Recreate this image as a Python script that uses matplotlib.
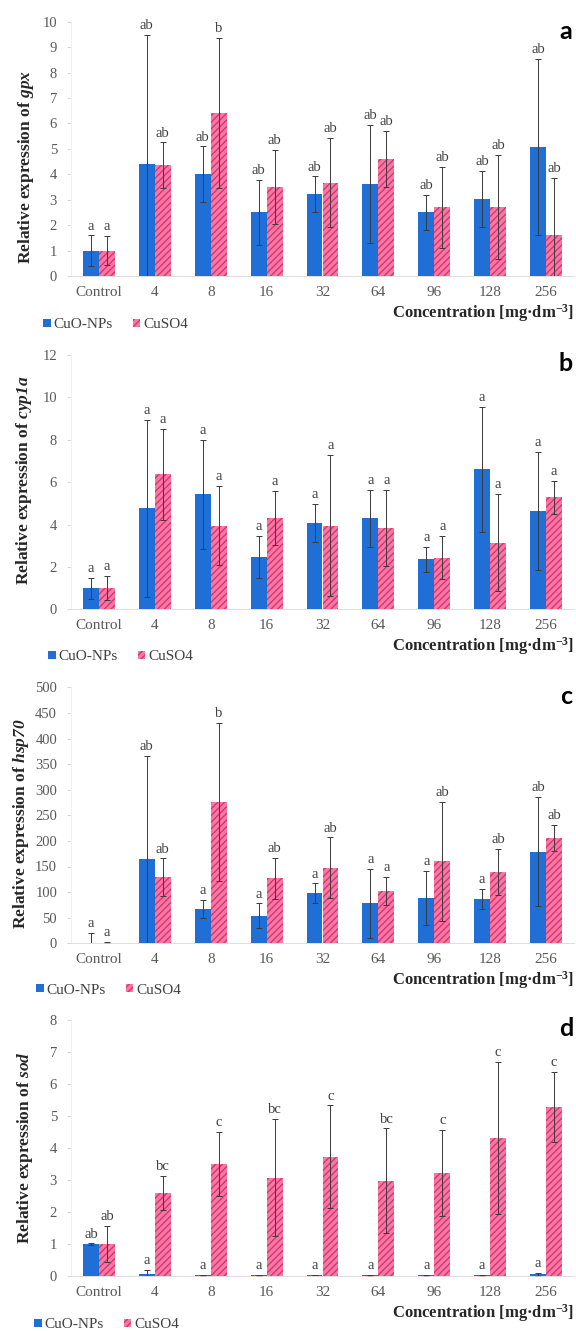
import matplotlib
matplotlib.use("Agg")
import matplotlib.pyplot as plt
import numpy as np

plt.rcParams['font.family'] = ['Liberation Serif', 'DejaVu Serif']
plt.rcParams['mathtext.fontset'] = 'custom'
plt.rcParams['mathtext.rm'] = 'Liberation Serif'
plt.rcParams['mathtext.it'] = 'Liberation Serif:italic'
plt.rcParams['mathtext.bf'] = 'Liberation Serif:bold'
plt.rcParams['mathtext.bfit'] = 'Liberation Serif:bold:italic'
plt.rcParams['hatch.linewidth'] = 1.0

categories = ['Control', '4', '8', '16', '32', '64', '96', '128', '256']

# gpx
gpx_cuo = [1.0, 4.39, 4.0, 2.5, 3.22, 3.62, 2.5, 3.03, 5.08]
gpx_cuo_err = [0.6, 5.08, 1.1, 1.27, 0.7, 2.32, 0.68, 1.1, 3.45]
gpx_cuso4 = [1.0, 4.35, 6.42, 3.51, 3.67, 4.6, 2.7, 2.71, 1.6]
gpx_cuso4_err = [0.58, 0.9, 2.95, 1.45, 1.75, 1.1, 1.6, 2.05, 2.27]
gpx_cuo_lab = ['a', 'ab', 'ab', 'ab', 'ab', 'ab', 'ab', 'ab', 'ab']
gpx_cuso4_lab = ['a', 'ab', 'b', 'ab', 'ab', 'ab', 'ab', 'ab', 'ab']

# cyp1a
cyp_cuo = [0.99, 4.76, 5.42, 2.48, 4.06, 4.29, 2.36, 6.6, 4.64]
cyp_cuo_err = [0.5, 4.17, 2.57, 1.0, 0.9, 1.34, 0.6, 2.96, 2.77]
cyp_cuso4 = [1.02, 6.37, 3.95, 4.32, 3.95, 3.82, 2.44, 3.14, 5.28]
cyp_cuso4_err = [0.57, 2.15, 1.88, 1.28, 3.33, 1.8, 1.03, 2.3, 0.77]
cyp_cuo_lab = ['a'] * 9
cyp_cuso4_lab = ['a'] * 9

# hsp70
hsp_cuo = [1, 164, 67, 54, 98, 78, 88, 87, 179]
hsp_cuo_err = [19, 202, 18, 24, 19, 68, 53, 20, 107]
hsp_cuso4 = [1, 129, 276, 127, 148, 102, 160, 140, 206]
hsp_cuso4_err = [1, 37, 154, 40, 59, 27, 116, 45, 25]
hsp_cuo_lab = ['a', 'ab', 'a', 'a', 'a', 'a', 'a', 'a', 'ab']
hsp_cuso4_lab = ['a', 'ab', 'b', 'ab', 'ab', 'a', 'ab', 'ab', 'ab']

# sod
sod_cuo = [1.0, 0.05, 0.02, 0.02, 0.03, 0.02, 0.02, 0.02, 0.05]
sod_cuo_err = [0.02, 0.13, 0.01, 0.01, 0.01, 0.01, 0.01, 0.01, 0.05]
sod_cuso4 = [1.0, 2.6, 3.5, 3.07, 3.73, 2.98, 3.21, 4.32, 5.29]
sod_cuso4_err = [0.56, 0.53, 1.0, 1.83, 1.6, 1.63, 1.35, 2.38, 1.1]
sod_cuo_lab = ['ab', 'a', 'a', 'a', 'a', 'a', 'a', 'a', 'a']
sod_cuso4_lab = ['ab', 'bc', 'c', 'bc', 'c', 'bc', 'c', 'c', 'c']

blue = '#1f6fd6'
pink_face = '#f47aa6'
pink_hatch = '#e2306c'
gray = '#595959'

W, H = 576, 1331
fig = plt.figure(figsize=(W / 100, H / 100), dpi=100)

panels = [
    ('a', 'gpx', gpx_cuo, gpx_cuo_err, gpx_cuso4, gpx_cuso4_err, gpx_cuo_lab, gpx_cuso4_lab,
     (0, 10), np.arange(0, 11, 1), (21.7, 276), (26, 0.43), (43, 325)),
    ('b', 'cyp1a', cyp_cuo, cyp_cuo_err, cyp_cuso4, cyp_cuso4_err, cyp_cuo_lab, cyp_cuso4_lab,
     (0, 12), np.arange(0, 13, 2), (355, 609.3), (24, 0.506), (48, 657)),
    ('c', 'hsp70', hsp_cuo, hsp_cuo_err, hsp_cuso4, hsp_cuso4_err, hsp_cuo_lab, hsp_cuso4_lab,
     (0, 500), np.arange(0, 501, 50), (687.3, 943.3), (21, 0.466), (36, 990)),
    ('d', 'sod', sod_cuo, sod_cuo_err, sod_cuso4, sod_cuso4_err, sod_cuo_lab, sod_cuso4_lab,
     (0, 8), np.arange(0, 9, 1), (1020, 1276), (25, 0.5), (34, 1325)),
]

ax_left, ax_right = 71, 574
x = np.arange(len(categories))
bw = 0.286

for (letter, gene, cuo, cuo_err, cuso4, cuso4_err, cuo_lab, cuso4_lab,
     ylim, yticks, (top, bottom), (ylx, yly), (legx, legy)) in panels:
    ax = fig.add_axes([ax_left / W, 1 - bottom / H, (ax_right - ax_left) / W, (bottom - top) / H])
    b1 = ax.bar(x - bw / 2, cuo, bw, color=blue, linewidth=0, label='CuO-NPs')
    b2 = ax.bar(x + bw / 2, cuso4, bw, color=pink_face, edgecolor=pink_hatch, hatch='/////',
                linewidth=0, label='CuSO4')
    ax.errorbar(x - bw / 2, cuo, yerr=cuo_err, fmt='none', ecolor='#3a3a3a', elinewidth=0.7,
                capsize=2.5, capthick=0.7)
    ax.errorbar(x + bw / 2, cuso4, yerr=cuso4_err, fmt='none', ecolor='#3a3a3a', elinewidth=0.7,
                capsize=2.5, capthick=0.7)
    for i in range(len(categories)):
        ax.annotate(cuo_lab[i], (x[i] - bw / 2, cuo[i] + cuo_err[i]), xytext=(0, 2),
                    textcoords='offset points', ha='center', va='bottom', fontsize=10.5,
                    color='#404040', annotation_clip=False)
        ax.annotate(cuso4_lab[i], (x[i] + bw / 2, cuso4[i] + cuso4_err[i]), xytext=(0, 2),
                    textcoords='offset points', ha='center', va='bottom', fontsize=10.5,
                    color='#404040', annotation_clip=False)

    ax.set_xlim(-0.5, len(categories) - 0.5)
    ax.set_ylim(*ylim)
    ax.set_yticks(yticks)
    ax.set_xticks(x)
    ax.set_xticklabels(categories)
    ax.tick_params(axis='x', length=0, pad=7, labelsize=11, labelcolor=gray)
    ax.tick_params(axis='y', length=3, width=0.6, color='#d0d0d0', pad=7, labelsize=10.5,
                   labelcolor=gray)
    for s in ['top', 'right']:
        ax.spines[s].set_visible(False)
    ax.spines['left'].set_color('#eeeeee')
    ax.spines['bottom'].set_color('#d9d9d9')
    ax.spines['left'].set_linewidth(0.6)
    ax.spines['bottom'].set_linewidth(0.6)

    ax.set_ylabel(r'Relative expression of $\mathbfit{' + gene + '}$', fontsize=12.5,
                  fontweight='bold', color='#262626', va='center')
    ax.yaxis.set_label_coords((ylx - ax_left) / (ax_right - ax_left), yly)

    fig.text(574 / W, 1 - (bottom + 37) / H, r'Concentration [mg·dm$^{\mathbf{-3}}$]',
             ha='right', va='center', fontsize=12, fontweight='bold', color='#262626')
    fig.text(566 / W, 1 - ((top + 10) if letter == 'a' else (top + 9)) / H, letter,
             ha='center', va='center', fontsize=18, fontweight='bold', family='Lato', color='black')

    ax.legend([b1, b2], ['CuO-NPs', 'CuSO4'], loc='center left',
              bbox_to_anchor=(legx / W, 1 - legy / H), bbox_transform=fig.transFigure,
              frameon=False, ncol=2, handlelength=0.5, handleheight=0.5, handletextpad=0.2,
              columnspacing=1.3, borderpad=0, borderaxespad=0, fontsize=11,
              labelcolor='#404040')

fig.savefig('out.png', dpi=100)
